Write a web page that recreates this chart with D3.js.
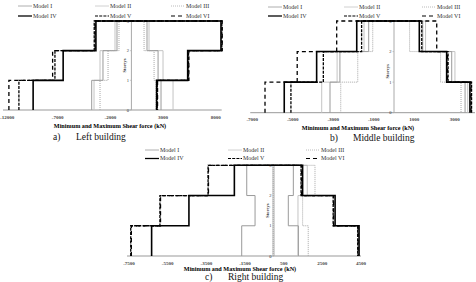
<!DOCTYPE html>
<html>
<head>
<meta charset="utf-8">
<script src="https://cdn.jsdelivr.net/npm/d3@7"></script>
<style>
  body { margin: 0; background: #fff; }
  svg { display: block; }
  text { font-family: "Liberation Serif", "DejaVu Serif", serif; }
</style>
</head>
<body>
<div id="chart"></div>
<script>
// model names, in legend order
const models = ["Model I", "Model II", "Model III", "Model IV", "Model V", "Model VI"];
const storeys = [0, 1, 2, 3];

// min / max shear per storey (storey 1, 2, 3), one row per model (kN)
const leftMin = [
  [-3770, -2700, -1370],
  [-3550, -2980, -1560],
  [-2980, -2220, -1180],
  [-9330, -6480, -3370],
  [-10680, -7260, -3530],
  [-11630, -7480, -3450]
];
const leftMax = [
  [2810, 2530, 1480],
  [3950, 3000, 1670],
  [2340, 2150, 1200],
  [2390, 5340, 8500],
  [2450, 5420, 8580],
  [2480, 5450, 8620]
];

const middleMin = [
  [-3160, -2670, -1250],
  [-3570, -2810, -1480],
  [-2630, -1790, -1050],
  [-5420, -3820, -1840],
  [-5090, -3490, -1600],
  [-6370, -4780, -2830]
];
const middleMax = [
  [3510, 2850, 1420],
  [3640, 3010, 1560],
  [3310, 2300, 770],
  [3750, 2600, 1250],
  [3830, 2670, 1370],
  [3800, 2640, 2110]
];

const rightMin = [
  [-1670, -980, -1410],
  [-60, -60, -60],
  [-40, -40, -40],
  [-6330, -4400, -2050],
  [-7410, -5900, -3410],
  [-7380, -5870, -3390]
];
const rightMax = [
  [1260, 740, 1000],
  [1240, 1240, 1720],
  [1770, 1480, 2120],
  [4400, 3160, 1480],
  [4330, 3060, 1400],
  [4350, 3080, 1420]
];

const leftTicks = [-12000, -7000, -2000, 3000, 8000];
const middleTicks = [-7000, -5000, -3000, -1000, 1000, 3000];
const rightTicks = [-7500, -5500, -3500, -1500, 500, 2500, 4500];

const styles = [
  { stroke: "#9a9a9a", width: 1, dash: null },
  { stroke: "#c4c4c4", width: 1, dash: null },
  { stroke: "#a8a8a8", width: 1, dash: "1,1" },
  { stroke: "#000", width: 1.6, dash: null },
  { stroke: "#000", width: 1.3, dash: "3,1.2" },
  { stroke: "#000", width: 1.3, dash: "4,3" }
];

const svg = d3.select("#chart").append("svg")
  .attr("width", 476)
  .attr("height", 282);

function drawPanel(p) {
  const g = svg.append("g");
  const x = d3.scaleLinear().domain(p.domain).range(p.xr);
  const y = d3.scaleLinear().domain([0, 3]).range(p.yr);

  // baseline
  g.append("line")
    .attr("x1", x(p.domain[0]) - 2).attr("x2", x(p.domain[1]) + p.baseExtra)
    .attr("y1", y(0)).attr("y2", y(0))
    .attr("stroke", "#999").attr("stroke-width", 1);

  // storey axis
  g.append("line")
    .attr("x1", x(0)).attr("x2", x(0))
    .attr("y1", y(0)).attr("y2", y(3))
    .attr("stroke", "#aaa").attr("stroke-width", 1);

  g.selectAll(".stick").data(storeys).enter().append("line")
    .attr("x1", x(0) - 1.5).attr("x2", x(0))
    .attr("y1", d => y(d)).attr("y2", d => y(d))
    .attr("stroke", "#aaa").attr("stroke-width", 0.6);

  g.selectAll(".slab").data(storeys).enter().append("text")
    .attr("x", x(0) - 2.5)
    .attr("y", d => y(d) + 1.6)
    .attr("text-anchor", "end")
    .style("font-size", "4.5px")
    .attr("fill", "#333")
    .text(d => d);

  g.append("text")
    .attr("transform", "translate(" + (x(0) - 5) + "," + y(p.storeyMid) + ") rotate(-90)")
    .attr("text-anchor", "middle")
    .style("font-size", "4.5px")
    .style("font-weight", "bold")
    .attr("fill", "#333")
    .text("Storeys");

  // x tick labels; keep the first one inside the page
  g.selectAll(".xt").data(p.ticks).enter().append("text")
    .attr("x", (d, i) => (i === 0 && x(d) < 8) ? 0 : x(d))
    .attr("y", p.tickY)
    .attr("text-anchor", (d, i) => (i === 0 && x(d) < 8) ? "start" : "middle")
    .style("font-size", "5px")
    .style("font-weight", "bold")
    .attr("fill", "#444")
    .text(d => d);

  g.append("text")
    .attr("x", p.titleX)
    .attr("y", p.axisTitleY)
    .attr("text-anchor", "middle")
    .style("font-size", "6.2px")
    .style("font-weight", "bold")
    .text("Minimum and Maximum Shear force (kN)");

  // staircase curves
  const line = d3.line().x(d => x(d[0])).y(d => y(d[1]));
  const order = [1, 0, 2, 3, 4, 5];
  order.forEach(i => {
    const mn = p.min[i], mx = p.max[i];
    const pts = [
      [mn[0], 0], [mn[0], 1], [mn[1], 1], [mn[1], 2], [mn[2], 2], [mn[2], 3],
      [mx[2], 3], [mx[2], 2], [mx[1], 2], [mx[1], 1], [mx[0], 1], [mx[0], 0]
    ];
    g.append("path")
      .attr("d", line(pts))
      .attr("fill", "none")
      .attr("stroke", styles[i].stroke)
      .attr("stroke-width", styles[i].width)
      .attr("stroke-dasharray", styles[i].dash);
  });

  // legend
  const leg = g.selectAll(".leg").data(models).enter().append("g")
    .attr("transform", (d, i) => "translate(" + p.legX[i % 3] + "," + p.legY[Math.floor(i / 3)] + ")");
  leg.append("line")
    .attr("x1", 0).attr("x2", 14)
    .attr("stroke", (d, i) => styles[i].stroke)
    .attr("stroke-width", (d, i) => styles[i].width * 0.8)
    .attr("stroke-dasharray", (d, i) => styles[i].dash);
  leg.append("text")
    .attr("x", 15).attr("y", 1.8)
    .style("font-size", "6px")
    .attr("fill", "#333")
    .text(d => d);

  // panel caption
  const cap = g.append("text")
    .attr("x", p.capX)
    .attr("y", p.capY)
    .style("font-size", "9.5px")
    .attr("fill", "#111");
  cap.append("tspan").text(p.capLetter);
  cap.append("tspan").attr("x", p.capX + 23).text(p.capText);
}

drawPanel({
  domain: [-12000, 8000], xr: [5, 215.7], yr: [110, 21],
  min: leftMin, max: leftMax, ticks: leftTicks, baseExtra: 6,
  storeyMid: 1.5, tickY: 119, axisTitleY: 128, titleX: 110,
  legX: [18, 95, 171], legY: [6, 16],
  capX: 53, capY: 139.5, capLetter: "a)", capText: "Left building"
});

drawPanel({
  domain: [-7000, 4000], xr: [252.25, 475], yr: [112.7, 21],
  min: middleMin, max: middleMax, ticks: middleTicks, baseExtra: 0,
  storeyMid: 1.35, tickY: 121, axisTitleY: 129.5, titleX: 358,
  legX: [268, 344, 422], legY: [7, 16],
  capX: 330, capY: 141, capLetter: "b)", capText: "Middle building"
});

drawPanel({
  domain: [-7500, 4500], xr: [129, 361], yr: [256, 165.3],
  min: rightMin, max: rightMax, ticks: rightTicks, baseExtra: 0,
  storeyMid: 1.5, tickY: 264.5, axisTitleY: 270.5, titleX: 240,
  legX: [145, 228, 306], legY: [150, 158.5],
  capX: 205, capY: 279.5, capLetter: "c)", capText: "Right building"
});
</script>
</body>
</html>
